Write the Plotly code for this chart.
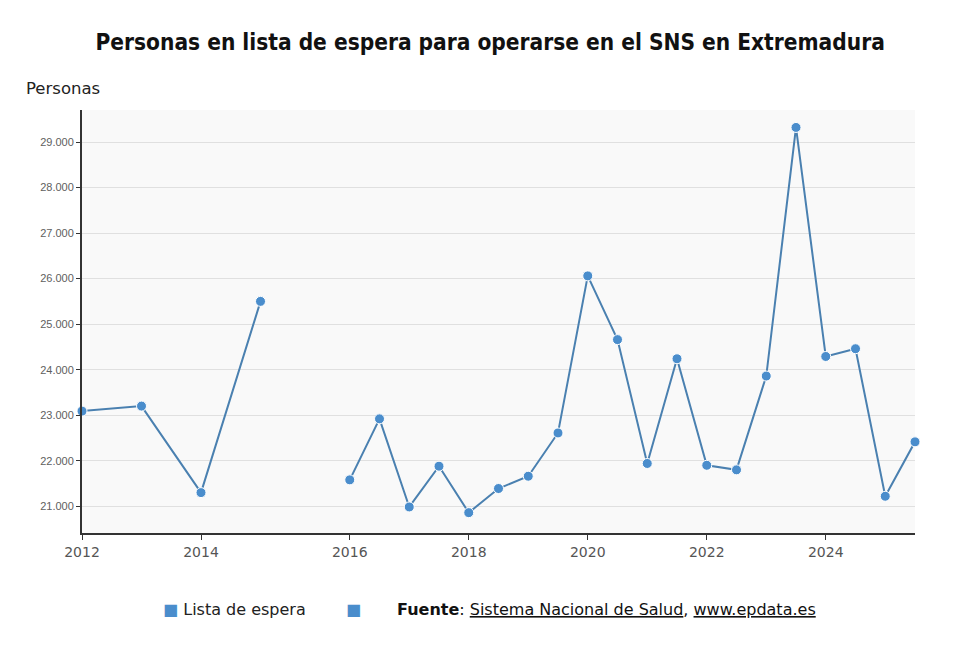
import plotly.graph_objects as go

# half-year slots on the x axis (the chart leaves some of them empty)
slots = ["2012", "2012-II", "2013", "2013-II", "2014", "2014-II", "dic 2014", "2015", "2015-II",
         "2016", "2016-II", "2017", "2017-II", "2018", "2018-II", "2019", "2019-II",
         "2020", "2020-II", "2021", "2021-II", "2022", "2022-II", "2023", "2023-II",
         "2024", "2024-II", "2025", "2025-II"]

periodos = ["2012", "2013", "2014", "dic 2014", "2015",
            "2016", "2016-II", "2017", "2017-II", "2018", "2018-II", "2019", "2019-II",
            "2020", "2020-II", "2021", "2021-II", "2022", "2022-II", "2023", "2023-II",
            "2024", "2024-II", "2025", "2025-II"]
lista_espera = [23090, 23200, 21300, 25500, None,
                21580, 22920, 20985, 21880, 20860, 21390, 21660, 22610,
                26060, 24660, 21940, 24240, 21900, 21800, 23860, 29320,
                24290, 24460, 21220, 22415]

year_ticks = ["2012", "2014", "2016", "2018", "2020", "2022", "2024"]
year_labels = ["2012", "2014", "2016", "2018", "2020", "2022", "2024"]
y_ticks = [21000, 22000, 23000, 24000, 25000, 26000, 27000, 28000, 29000]
y_labels = ["21.000", "22.000", "23.000", "24.000", "25.000", "26.000", "27.000", "28.000", "29.000"]

line_color = "#4a80b0"
marker_color = "#4a8dcc"

fig = go.Figure()
fig.add_trace(go.Scatter(
    x=periodos, y=lista_espera, name="Lista de espera",
    mode="lines+markers", connectgaps=False, cliponaxis=False,
    line=dict(color=line_color, width=2),
    marker=dict(color=marker_color, size=10, line=dict(color="white", width=1)),
    showlegend=False,
))

fig.update_layout(
    width=980, height=654,
    margin=dict(l=74, r=73, t=102, b=129),
    paper_bgcolor="white", plot_bgcolor="#f9f9f9",
    font=dict(family="DejaVu Sans", color="#555555"),
    title=dict(text="Personas en lista de espera para operarse en el SNS en Extremadura",
               x=0.492, xanchor="center", y=0.948, yanchor="middle",
               font=dict(family="DejaVu Sans Condensed", size=22.5, color="#111111", weight="bold")),
)

fig.update_xaxes(
    type="category", categoryorder="array", categoryarray=slots,
    range=[0, len(slots) - 1],
    tickmode="array", tickvals=year_ticks, ticktext=year_labels,
    showgrid=False, zeroline=False,
    showline=True, linecolor="#333333", linewidth=2,
    ticks="outside", ticklen=5, tickcolor="#333333", tickwidth=1,
    tickfont=dict(size=14, color="#555555"),
)
fig.update_yaxes(
    range=[20413, 29703],
    tickmode="array", tickvals=y_ticks, ticktext=y_labels,
    showgrid=True, gridcolor="#e0e0e0", gridwidth=1, zeroline=False,
    showline=True, linecolor="#333333", linewidth=2,
    ticks="outside", ticklen=4, tickcolor="#333333", tickwidth=1,
    tickfont=dict(family="Liberation Sans", size=11, color="#606060"),
)

fig.add_annotation(text="Personas", xref="paper", yref="paper", x=-0.0695, y=1.052,
                   xanchor="left", yanchor="middle", showarrow=False,
                   font=dict(family="DejaVu Sans", size=16.5, color="#222222"))
fig.add_annotation(text=f"<span style='color:{marker_color}'>■</span> Lista de espera",
                   xref="paper", yref="paper", x=0.095, y=-0.18,
                   xanchor="left", yanchor="middle", showarrow=False,
                   font=dict(family="DejaVu Sans", size=16, color="#222222"))
fig.add_annotation(text=f"<span style='color:{marker_color}'>■</span>",
                   xref="paper", yref="paper", x=0.314, y=-0.18,
                   xanchor="left", yanchor="middle", showarrow=False,
                   font=dict(family="DejaVu Sans", size=16, color="#222222"))
fig.add_annotation(text="<b>Fuente</b>: <u>Sistema Nacional de Salud</u>, <u>www.epdata.es</u>",
                   xref="paper", yref="paper", x=0.376, y=-0.18,
                   xanchor="left", yanchor="middle", showarrow=False,
                   font=dict(family="DejaVu Sans", size=16, color="#111111"))

fig.write_html("out.html")
